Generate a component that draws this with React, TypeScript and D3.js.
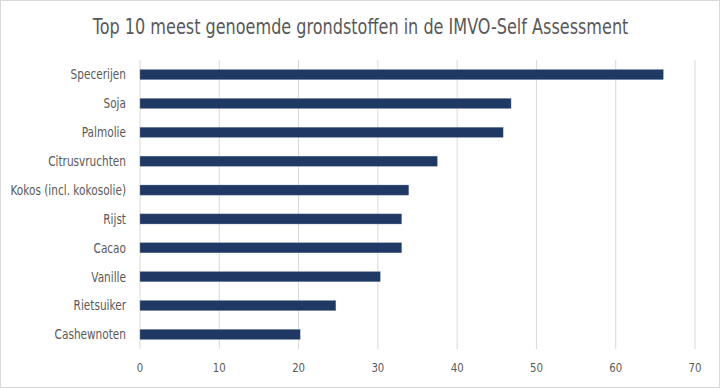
import { useRef, useEffect } from "react";
import * as d3 from "d3";

// chart data
const categories = [
  "Specerijen",
  "Soja",
  "Palmolie",
  "Citrusvruchten",
  "Kokos (incl. kokosolie)",
  "Rijst",
  "Cacao",
  "Vanille",
  "Rietsuiker",
  "Cashewnoten",
];
const values = [66.0, 46.8, 45.8, 37.5, 33.9, 33.0, 33.0, 30.3, 24.7, 20.2];
const xTicks = [0, 10, 20, 30, 40, 50, 60, 70];
const title = "Top 10 meest genoemde grondstoffen in de IMVO-Self Assessment";

const width = 720;
const height = 388;
const font = "'DejaVu Sans', sans-serif";
// no condensed font installed, so squeeze text horizontally
const squeeze = 0.78;

const App = () => {
  const svgRef = useRef<SVGSVGElement>(null);

  useEffect(() => {
    const svg = d3.select(svgRef.current);
    svg.selectAll("*").remove();

    const left = 140;
    const right = 695;
    const top = 60;
    const bottom = 349;

    const xScale = d3.scaleLinear().domain([0, 70]).range([left, right]);
    const yScale = d3
      .scaleBand()
      .domain(categories)
      .range([top, bottom])
      .paddingInner(0.65)
      .paddingOuter(0.33);

    // outer frame
    svg
      .append("rect")
      .attr("x", 0.5)
      .attr("y", 0.5)
      .attr("width", width - 1)
      .attr("height", height - 1)
      .attr("fill", "#fff")
      .attr("stroke", "#d9d9d9");

    // title
    svg
      .append("text")
      .attr("transform", `translate(${width / 2 + 0.5},34) scale(0.765,1)`)
      .attr("text-anchor", "middle")
      .attr("font-family", font)
      .attr("font-size", "21px")
      .attr("fill", "#595959")
      .text(title);

    // gridlines
    svg
      .append("g")
      .selectAll("line")
      .data(xTicks)
      .join("line")
      .attr("x1", (d) => xScale(d))
      .attr("x2", (d) => xScale(d))
      .attr("y1", top)
      .attr("y2", bottom)
      .attr("stroke", "#d9d9d9")
      .attr("stroke-width", 1);

    // x tick labels
    svg
      .append("g")
      .selectAll("text")
      .data(xTicks)
      .join("text")
      .attr("transform", (d) => `translate(${xScale(d)},372) scale(${squeeze},1)`)
      .attr("text-anchor", "middle")
      .attr("font-family", font)
      .attr("font-size", "13px")
      .attr("fill", "#595959")
      .text((d) => d);

    // category labels
    svg
      .append("g")
      .selectAll("text")
      .data(categories)
      .join("text")
      .attr(
        "transform",
        (d) => `translate(126,${yScale(d)! + yScale.bandwidth() / 2}) scale(${squeeze},1)`
      )
      .attr("dy", "0.36em")
      .attr("text-anchor", "end")
      .attr("font-family", font)
      .attr("font-size", "13.5px")
      .attr("fill", "#595959")
      .text((d) => d);

    // bars
    svg
      .append("g")
      .selectAll("rect")
      .data(categories)
      .join("rect")
      .attr("x", xScale(0))
      .attr("y", (d) => yScale(d)!)
      .attr("width", (d, i) => xScale(values[i]) - xScale(0))
      .attr("height", yScale.bandwidth())
      .attr("fill", "#203864")
      .attr("stroke", "#8090b0")
      .attr("stroke-width", 0.4);
  }, []);

  return (
    <svg
      ref={svgRef}
      width={width}
      height={height}
      style={{ position: "absolute", left: 0, top: 0 }}
    ></svg>
  );
};

export default App;
